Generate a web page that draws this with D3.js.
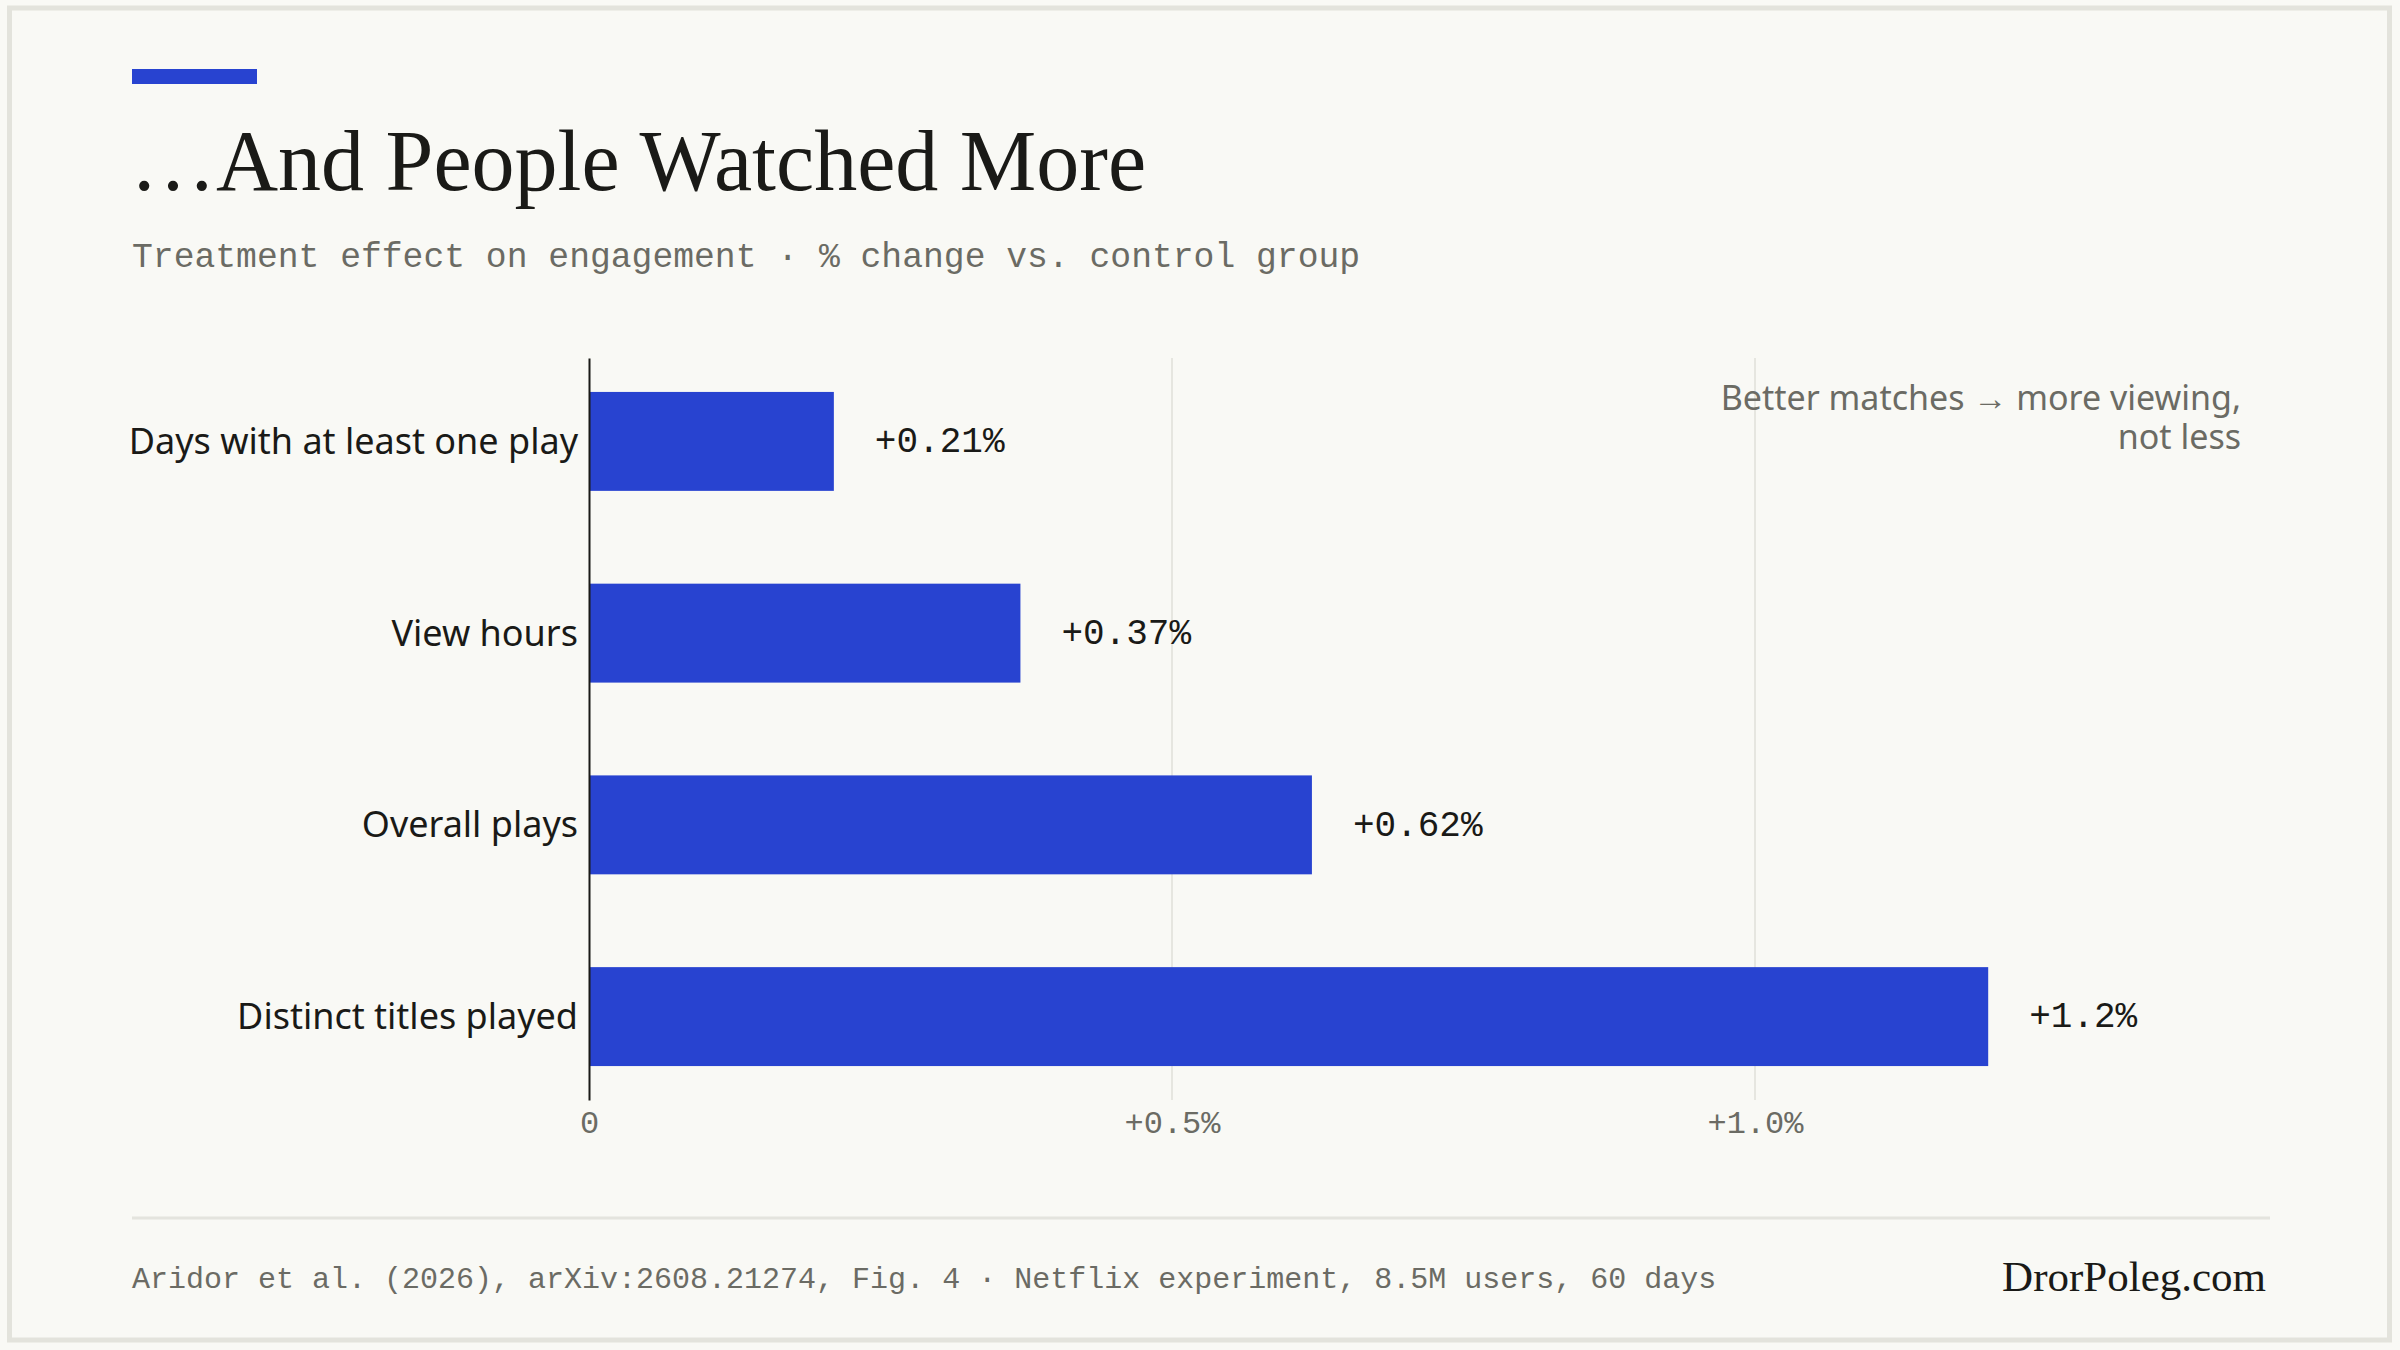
<!DOCTYPE html>
<html>
<head>
<meta charset="utf-8">
<script src="https://cdn.jsdelivr.net/npm/d3@7"></script>
<style>
  html, body { margin: 0; padding: 0; background: #f9f9f5; }
  svg { display: block; }
</style>
</head>
<body>
<svg id="chart" width="2400" height="1350"></svg>
<script>
// ---- data ----
const categories = ["Days with at least one play", "View hours", "Overall plays", "Distinct titles played"];
const values = [0.21, 0.37, 0.62, 1.2];
const valueLabels = ["+0.21%", "+0.37%", "+0.62%", "+1.2%"];
const tickValues = [0, 0.5, 1.0];
const tickLabels = ["0", "+0.5%", "+1.0%"];
const titleText = "…And People Watched More";
const subtitleText = "Treatment effect on engagement · % change vs. control group";
const noteLines = ["Better matches → more viewing,", "not less"];
const sourceText = "Aridor et al. (2026), arXiv:2608.21274, Fig. 4 · Netflix experiment, 8.5M users, 60 days";
const brandText = "DrorPoleg.com";

// ---- styles ----
const BG = "#f9f9f5", BLUE = "#2843d0", INK = "#1a1a17", GRAY = "#6b6b64", RULE = "#e4e4de";
const MONO = "'Liberation Mono', 'DejaVu Sans Mono', monospace";
const SANS = "'Noto Sans', Roboto, sans-serif";
const SERIF = "'Liberation Serif', 'DejaVu Serif', serif";

const svg = d3.select("#chart");
svg.append("rect").attr("width", 2400).attr("height", 1350).attr("fill", BG);
svg.append("rect").attr("x", 9.5).attr("y", 8).attr("width", 2380).attr("height", 1332)
  .attr("fill", "none").attr("stroke", "#e3e3dc").attr("stroke-width", 5);

// header
svg.append("rect").attr("x", 132).attr("y", 69).attr("width", 125).attr("height", 15).attr("fill", BLUE);
svg.append("text").attr("x", 130).attr("y", 190).text(titleText)
  .attr("font-family", SERIF).attr("font-size", 86).attr("fill", INK);
svg.append("text").attr("x", 132).attr("y", 267).text(subtitleText)
  .attr("font-family", MONO).attr("font-size", 34.7).attr("fill", GRAY);

// scales
const x = d3.scaleLinear().domain([0, 1]).range([589, 1755]);
const y = d3.scaleBand().domain(categories).range([358, 1100]).paddingInner(0.484).paddingOuter(0.177);

// gridlines
svg.append("g").selectAll("line").data(tickValues.filter(d => d !== 0)).join("line")
  .attr("x1", d => x(d)).attr("x2", d => x(d)).attr("y1", 358).attr("y2", 1100)
  .attr("stroke", "#e6e6e0").attr("stroke-width", 2);

// x axis tick labels
const xAxis = d3.axisBottom(x).tickValues(tickValues).tickFormat((d, i) => tickLabels[i]).tickSize(0).tickPadding(0);
const gx = svg.append("g").attr("transform", "translate(0,1100)").call(xAxis);
gx.select(".domain").remove();
gx.selectAll("text").attr("dy", null).attr("y", 33)
  .attr("font-family", MONO).attr("font-size", 32).attr("fill", GRAY);

// bars
svg.append("g").selectAll("rect").data(values).join("rect")
  .attr("x", x(0)).attr("y", (d, i) => y(categories[i]))
  .attr("width", d => x(d) - x(0)).attr("height", y.bandwidth()).attr("fill", BLUE);

// value labels
svg.append("g").selectAll("text").data(values).join("text")
  .attr("x", d => x(d) + 41).attr("y", (d, i) => y(categories[i]) + y.bandwidth() / 2)
  .attr("dy", "0.3em").text((d, i) => valueLabels[i])
  .attr("font-family", MONO).attr("font-size", 36).attr("fill", INK);

// y axis
const yAxis = d3.axisLeft(y).tickSize(0).tickPadding(11);
const gy = svg.append("g").attr("transform", `translate(${x(0)},0)`).call(yAxis);
gy.select(".domain").attr("stroke", INK).attr("stroke-width", 2);
gy.selectAll("text").attr("dy", "0.35em")
  .attr("font-family", SANS).attr("font-size", 36).attr("fill", INK);

// annotation
svg.append("g").selectAll("text").data(noteLines).join("text")
  .attr("text-anchor", "end").attr("font-family", SANS).attr("font-size", 34).attr("fill", GRAY)
  .attr("x", 2241).attr("y", (d, i) => 410 + i * 39).text(d => d);

// footer
svg.append("line").attr("x1", 132).attr("x2", 2270).attr("y1", 1218).attr("y2", 1218)
  .attr("stroke", RULE).attr("stroke-width", 3);
svg.append("text").attr("x", 132).attr("y", 1288).text(sourceText)
  .attr("font-family", MONO).attr("font-size", 30).attr("fill", GRAY);
svg.append("text").attr("x", 2266).attr("y", 1291).attr("text-anchor", "end").text(brandText)
  .attr("font-family", SERIF).attr("font-size", 43).attr("fill", INK);
</script>
</body>
</html>
